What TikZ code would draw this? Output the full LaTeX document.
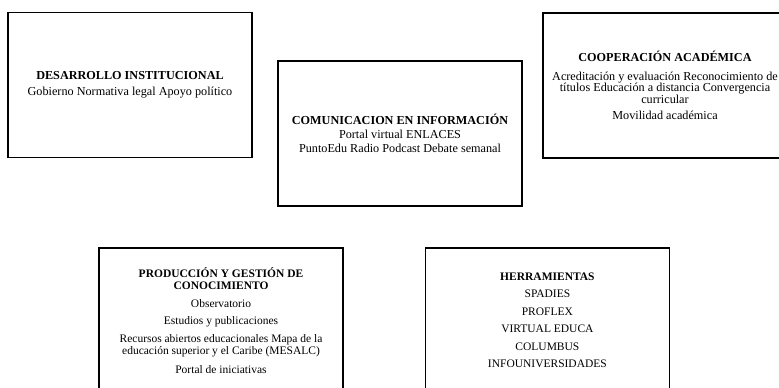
\documentclass[tikz,border=0pt]{standalone}
\usepackage{fontspec}
\setmainfont{Liberation Serif}
\usetikzlibrary{positioning}
\tikzstyle{area} = [rectangle, draw=black, line width=1.4pt, minimum width=244pt, minimum height=145pt, align=center, inner sep=0pt, font=\fontsize{11.5}{12.5}\selectfont]
\tikzstyle{upper} = [font=\fontsize{12.2}{11.5}\selectfont]

\begin{document}
\begin{tikzpicture}[x=1pt, y=-1pt]
                \path[use as bounding box, clip] (0,0) rectangle (779,388);
                \node (desarrollo) [area, upper] at (130,85) {\textbf{DESARROLLO INSTITUCIONAL}\\[4pt]Gobierno Normativa legal Apoyo político};
                \node (comunicacion) [area, upper] at (400,133.5) {\textbf{COMUNICACION EN INFORMACIÓN}\\[2.5pt]Portal virtual ENLACES\\[2.5pt]PuntoEdu Radio Podcast Debate semanal};
                \node (cooperacion) [area, upper] at (665,85.5) {\textbf{COOPERACIÓN ACADÉMICA}\\[7pt]Acreditación y evaluación Reconocimiento de\\títulos Educación a distancia Convergencia\\curricular\\[5pt]Movilidad académica};
                % segunda fila
                \node (produccion) [area] at (221,320.5) {\textbf{PRODUCCIÓN Y GESTIÓN DE}\\\textbf{CONOCIMIENTO}\\[5pt]Observatorio\\[5pt]Estudios y publicaciones\\[5pt]Recursos abiertos educacionales Mapa de la\\educación superior y el Caribe (MESALC)\\[6pt]Portal de iniciativas};
                \node (herramientas) [area, right=81pt of produccion] {\textbf{HERRAMIENTAS}\\[5pt]SPADIES\\[5pt]PROFLEX\\[5pt]VIRTUAL EDUCA\\[5pt]COLUMBUS\\[5pt]INFOUNIVERSIDADES};
            \end{tikzpicture}
\end{document}
